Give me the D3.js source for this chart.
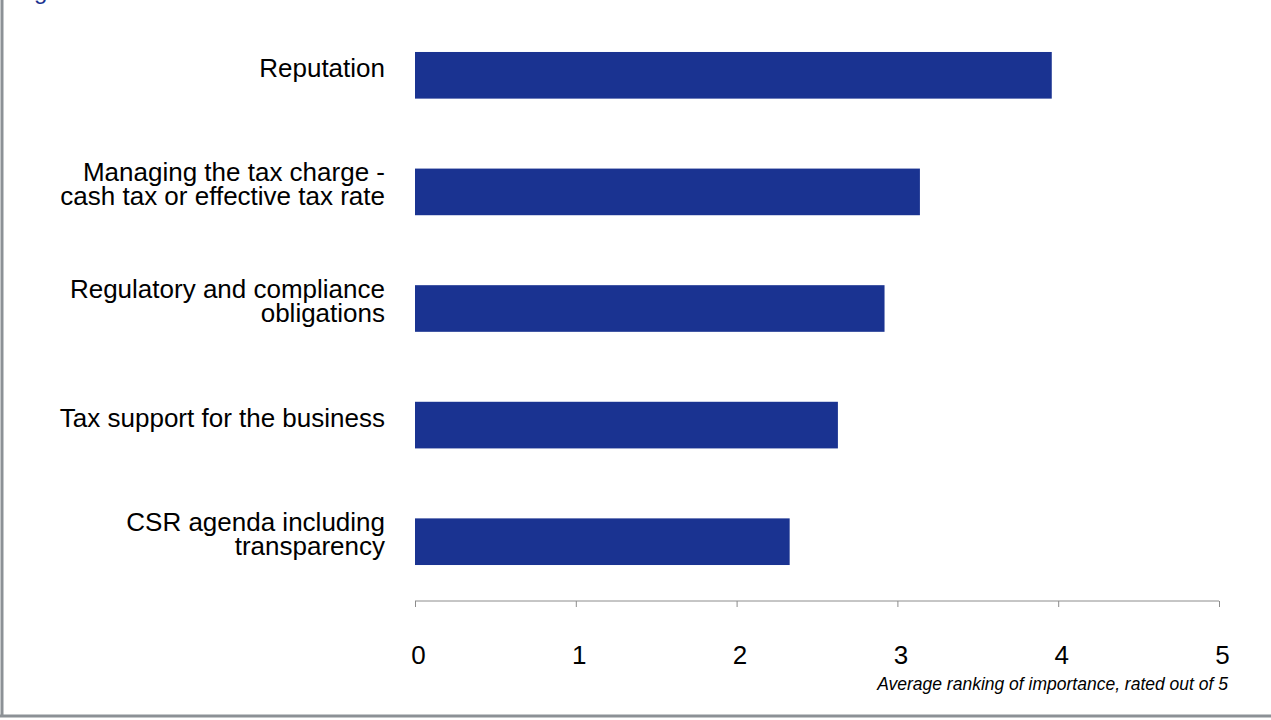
<!DOCTYPE html>
<html>
<head>
<meta charset="utf-8">
<script src="https://cdn.jsdelivr.net/npm/d3@7"></script>
<style>
  html, body { margin: 0; padding: 0; background: #fff; }
  svg { display: block; font-family: Arial, "Liberation Sans", sans-serif; }
</style>
</head>
<body>
<svg id="chart" width="1271" height="720"></svg>
<script>
// Datos del gráfico
const categories = [
  ['Reputation'],
  ['Managing the tax charge -', 'cash tax or effective tax rate'],
  ['Regulatory and compliance', 'obligations'],
  ['Tax support for the business'],
  ['CSR agenda including', 'transparency']
];
const values = [3.96, 3.14, 2.92, 2.63, 2.33];
const tickValues = [0, 1, 2, 3, 4, 5];
const axisTitle = 'Average ranking of importance, rated out of 5';

const svg = d3.select('#chart');
const W = 1271, H = 720;

// marco gris (izquierda y abajo)
svg.append('line').attr('x1', 2).attr('y1', 0).attr('x2', 2).attr('y2', 716)
  .attr('stroke', '#8c9196').attr('stroke-width', 3);
svg.append('line').attr('x1', 0).attr('y1', 716).attr('x2', W).attr('y2', 716)
  .attr('stroke', '#8c9196').attr('stroke-width', 3);

// título recortado arriba
svg.append('text').attr('x', 14).attr('y', -1)
  .attr('font-size', 24).attr('fill', '#1a3391').text('Figure');

const x = d3.scaleLinear().domain([0, 5]).range([415, 1219]);
const y = d3.scaleBand().domain(d3.range(values.length)).range([17, 600]).paddingInner(0.6).paddingOuter(0.3);

// barras
svg.append('g').selectAll('rect').data(values).join('rect')
  .attr('x', x(0))
  .attr('y', (d, i) => y(i))
  .attr('width', d => x(d) - x(0))
  .attr('height', y.bandwidth())
  .attr('fill', '#1a3391');

// etiquetas de categoría
const lab = svg.append('g').selectAll('text').data(categories).join('text')
  .attr('text-anchor', 'end')
  .attr('font-size', 26)
  .attr('fill', '#000');
lab.each(function (lines, i) {
  const cy = y(i) + y.bandwidth() / 2;
  const lh = 24;
  const y0 = cy - (lines.length - 1) * lh / 2 + 1.5;
  d3.select(this).selectAll('tspan').data(lines).join('tspan')
    .attr('x', 385)
    .attr('y', (d, k) => y0 + k * lh)
    .text(d => d);
});

// eje
const axis = svg.append('g').attr('transform', 'translate(0,601)')
  .call(d3.axisBottom(x).tickValues(tickValues).tickSize(6).tickFormat(d3.format('d')));
axis.select('.domain').attr('stroke', '#8c8c8c').attr('d', `M${x(0)},0H${x(5)}`);
axis.selectAll('.tick line').attr('stroke', '#8c8c8c');
axis.selectAll('.tick text').attr('font-size', 26).attr('fill', '#000')
  .attr('font-family', 'Arial, "Liberation Sans", sans-serif')
  .attr('y', 63).attr('dy', 0).attr('dx', 3);

svg.append('text').attr('x', 1228).attr('y', 690)
  .attr('text-anchor', 'end').attr('font-size', 17.5).attr('font-style', 'italic')
  .attr('fill', '#000').text(axisTitle);
</script>
</body>
</html>
